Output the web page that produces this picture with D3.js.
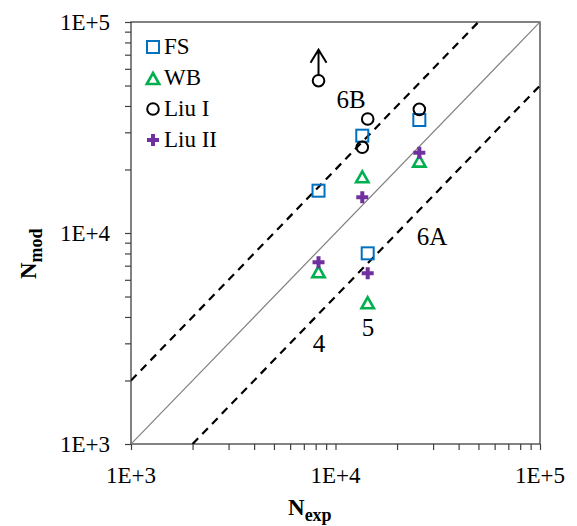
<!DOCTYPE html>
<html>
<head>
<meta charset="utf-8">
<script src="https://cdn.jsdelivr.net/npm/d3@7"></script>
<style>
    html, body { margin: 0; padding: 0; background: #fff; }
    svg { display: block; }
    text { font-family: "Times New Roman", "Liberation Serif", serif; fill: #000; }
</style>
</head>
<body>
<script>
'use strict';

// N_exp values (x) and N_mod values (y) per model
var fsExp = [8260, 13520, 25700, 14370],
    fsMod = [15870, 28920, 34320, 8010];

var wbExp = [8260, 13520, 25700, 14370],
    wbMod = [6515, 18360, 21780, 4645];

var liu1Exp = [8260, 14370, 13520, 25700],
    liu1Mod = [52700, 34700, 25480, 38560];

var liu2Exp = [8260, 13520, 25700, 14370],
    liu2Mod = [7265, 14760, 24020, 6440];

var seriesNames = ['FS', 'WB', 'Liu I', 'Liu II'];
var tickValues = [1e3, 1e4, 1e5];
var tickLabels = ['1E+3', '1E+4', '1E+5'];

// reference lines: y = k * x
var lineFactors = [1, 2, 0.5];

// test labels
var caseLabels = ['6B', '6A', '5', '4'],
    caseLabelExp = [11910, 29640, 14420, 8300],
    caseLabelMod = [39120, 8775, 3250, 2730];

var width = 577,
    height = 526,
    margin = {left: 131, right: 37, top: 22, bottom: 82};

var svg = d3.select('body').append('svg')
    .attr('width', width)
    .attr('height', height);

var x = d3.scaleLog().domain([1e3, 1e5])
    .range([margin.left, width - margin.right]);
var y = d3.scaleLog().domain([1e3, 1e5])
    .range([height - margin.bottom, margin.top]);

var minorTicks = [];
[1e3, 1e4].forEach(function(decade) {
    for(var m = 2; m <= 9; m++) minorTicks.push(decade * m);
});

var axisColor = '#3f3f3f';

// plot frame: left and bottom axes plus the top/right border
var g = svg.append('g');

g.append('rect')
    .attr('x', x(1e3))
    .attr('y', y(1e5))
    .attr('width', x(1e5) - x(1e3))
    .attr('height', y(1e3) - y(1e5))
    .style('fill', 'none')
    .style('stroke', axisColor)
    .style('stroke-width', 1.3);

var xAxis = d3.axisBottom(x)
    .tickValues(tickValues.concat(minorTicks))
    .tickSize(6)
    .tickFormat('');
var yAxis = d3.axisLeft(y)
    .tickValues(tickValues.concat(minorTicks))
    .tickSize(6)
    .tickFormat('');

g.append('g')
    .attr('transform', 'translate(0,' + y(1e3) + ')')
    .call(xAxis)
    .call(styleAxis);
g.append('g')
    .attr('transform', 'translate(' + x(1e3) + ',0)')
    .call(yAxis)
    .call(styleAxis);

function styleAxis(s) {
    s.select('.domain').remove();
    s.selectAll('.tick line')
        .style('stroke', axisColor)
        .style('stroke-width', 1.2);
}

// tick labels
g.selectAll('.xlabel')
    .data(tickValues)
  .enter().append('text')
    .attr('x', function(d) { return x(d); })
    .attr('y', y(1e3) + 39)
    .attr('text-anchor', 'middle')
    .style('font-size', '23px')
    .text(function(d, i) { return tickLabels[i]; });

g.selectAll('.ylabel')
    .data(tickValues)
  .enter().append('text')
    .attr('x', x(1e3) - 21)
    .attr('y', function(d) { return y(d) + 8; })
    .attr('text-anchor', 'end')
    .style('font-size', '23px')
    .text(function(d, i) { return tickLabels[i]; });

// axis titles
var xTitle = svg.append('text')
    .attr('x', 288)
    .attr('y', 515)
    .style('font-weight', 'bold')
    .style('font-size', '23px');
xTitle.append('tspan').text('N');
xTitle.append('tspan')
    .attr('dy', 6)
    .style('font-size', '18px')
    .text('exp');

var yTitle = svg.append('text')
    .attr('transform', 'translate(36,279) rotate(-90)')
    .style('font-weight', 'bold')
    .style('font-size', '23px');
yTitle.append('tspan').text('N');
yTitle.append('tspan')
    .attr('dy', 6)
    .style('font-size', '18px')
    .text('mod');

// reference lines, clipped to the plot box
svg.append('clipPath').attr('id', 'plotclip')
  .append('rect')
    .attr('x', x(1e3))
    .attr('y', y(1e5))
    .attr('width', x(1e5) - x(1e3))
    .attr('height', y(1e3) - y(1e5));

var lines = svg.append('g').attr('clip-path', 'url(#plotclip)');

lineFactors.forEach(function(k) {
    var x0 = Math.max(1e3, 1e3 / k),
        x1 = Math.min(1e5, 1e5 / k);
    lines.append('line')
        .attr('x1', x(x0)).attr('y1', y(x0 * k))
        .attr('x2', x(x1)).attr('y2', y(x1 * k))
        .style('stroke', k === 1 ? '#7f7f7f' : '#000')
        .style('stroke-width', k === 1 ? 1.2 : 2.2)
        .style('stroke-dasharray', k === 1 ? null : '8,6');
});

// markers
var colors = ['#0070c0', '#00b050', '#000', '#7030a0'];

function drawMarker(sel, type, color) {
    if(type === 0) {
        sel.append('rect')
            .attr('x', -6).attr('y', -6)
            .attr('width', 12).attr('height', 12)
            .style('fill', 'none')
            .style('stroke', color)
            .style('stroke-width', 2);
    }
    else if(type === 1) {
        sel.append('path')
            .attr('d', 'M0,-6L6.2,5L-6.2,5Z')
            .style('fill', 'none')
            .style('stroke', color)
            .style('stroke-width', 2.6);
    }
    else if(type === 2) {
        sel.append('circle')
            .attr('r', 5.8)
            .style('fill', 'none')
            .style('stroke', color)
            .style('stroke-width', 2);
    }
    else {
        sel.append('path')
            .attr('d', 'M-2,-6H2V-2H6V2H2V6H-2V2H-6V-2H-2Z')
            .style('fill', color);
    }
}

var seriesExp = [fsExp, wbExp, liu1Exp, liu2Exp],
    seriesMod = [fsMod, wbMod, liu1Mod, liu2Mod];

var pts = svg.append('g');

seriesExp.forEach(function(xs, si) {
    pts.selectAll('.s' + si)
        .data(xs)
      .enter().append('g')
        .attr('transform', function(d, i) {
            return 'translate(' + x(d) + ',' + y(seriesMod[si][i]) + ')';
        })
        .each(function() { drawMarker(d3.select(this), si, colors[si]); });
});

// arrow above the Liu I point whose life runs off the model
var ax = x(liu1Exp[0]),
    ay = y(liu1Mod[0]);
pts.append('path')
    .attr('d', 'M' + ax + ',' + (ay - 6) + 'V' + (ay - 31) +
        'M' + (ax - 8) + ',' + (ay - 18) + 'L' + ax + ',' + (ay - 31) +
        'L' + (ax + 8) + ',' + (ay - 18))
    .style('fill', 'none')
    .style('stroke', '#000')
    .style('stroke-width', 2);

// case labels
svg.selectAll('.case')
    .data(caseLabels)
  .enter().append('text')
    .attr('x', function(d, i) { return x(caseLabelExp[i]); })
    .attr('y', function(d, i) { return y(caseLabelMod[i]); })
    .attr('text-anchor', 'middle')
    .style('font-size', '25px')
    .text(function(d) { return d; });

// legend
var legend = svg.append('g')
    .attr('transform', 'translate(153,47)');

var items = legend.selectAll('g')
    .data(seriesNames)
  .enter().append('g')
    .attr('transform', function(d, i) { return 'translate(0,' + (i * 31) + ')'; });

items.each(function(d, i) {
    var s = d3.select(this);
    var m = s.append('g').attr('transform', i === 1 ? 'translate(0,1)' : null);
    drawMarker(m, i, colors[i]);
    s.append('text')
        .attr('x', 11)
        .attr('y', 7)
        .style('font-size', '23px')
        .text(d);
});
</script>
</body>
</html>
